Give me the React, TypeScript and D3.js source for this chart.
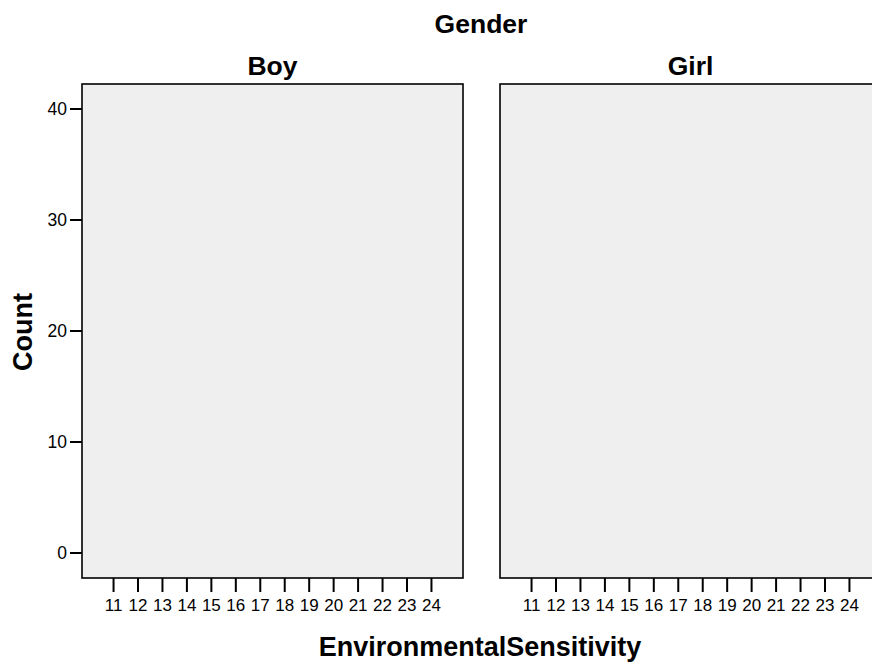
import React, { useEffect, useRef } from "react";
import * as d3 from "d3";

const panels: string[] = ["Boy", "Girl"];
const xCategories: number[] = [11, 12, 13, 14, 15, 16, 17, 18, 19, 20, 21, 22, 23, 24];
const yTicks: number[] = [0, 10, 20, 30, 40];
// No bars are drawn in the reference: every count is empty
const boyCounts: number[] = [];
const girlCounts: number[] = [];

const W = 872;
const H = 663;
const FONT = "Arial, 'Liberation Sans', Helvetica, sans-serif";

export default function App() {
  const ref = useRef<SVGSVGElement | null>(null);

  useEffect(() => {
    const svg = d3.select(ref.current);
    svg.selectAll("*").remove();

    const top = 84;
    const bottom = 578;
    const panelW = 381;
    const panelX = [82, 500];

    const y = d3.scaleLinear().domain([0, 40]).range([553, 109]);

    svg
      .append("text")
      .attr("x", 481)
      .attr("y", 33)
      .attr("text-anchor", "middle")
      .attr("font-family", FONT)
      .attr("font-weight", "bold")
      .attr("font-size", 26.5)
      .text("Gender");

    const data = [boyCounts, girlCounts];

    panels.forEach((name, i) => {
      const x0 = panelX[i];
      const x = d3
        .scalePoint<number>()
        .domain(xCategories)
        .range([x0, x0 + panelW])
        .padding(1.29);

      const g = svg.append("g");
      g.append("rect")
        .attr("x", x0)
        .attr("y", top)
        .attr("width", panelW)
        .attr("height", bottom - top)
        .attr("fill", "#efefef")
        .attr("stroke", "#000")
        .attr("stroke-width", 1.6);

      // bars (none in reference)
      g.selectAll("rect.bar")
        .data(data[i])
        .enter()
        .append("rect")
        .attr("class", "bar")
        .attr("x", (_d, j) => (x(xCategories[j]) ?? 0) - 8)
        .attr("width", 16)
        .attr("y", (d) => y(d))
        .attr("height", (d) => y(0) - y(d))
        .attr("fill", "#3e58ac");

      g.append("text")
        .attr("x", x0 + panelW / 2)
        .attr("y", 75)
        .attr("text-anchor", "middle")
        .attr("font-family", FONT)
        .attr("font-weight", "bold")
        .attr("font-size", 26.5)
        .text(name);

      // x ticks
      xCategories.forEach((c) => {
        const px = x(c) ?? 0;
        g.append("line")
          .attr("x1", px)
          .attr("x2", px)
          .attr("y1", bottom)
          .attr("y2", bottom + 14)
          .attr("stroke", "#000")
          .attr("stroke-width", 2);
        g.append("text")
          .attr("x", px)
          .attr("y", 611)
          .attr("text-anchor", "middle")
          .attr("font-family", FONT)
          .attr("font-size", 17)
          .text(String(c));
      });

      if (i === 0) {
        yTicks.forEach((t) => {
          const py = y(t);
          g.append("line")
            .attr("x1", x0 - 12)
            .attr("x2", x0)
            .attr("y1", py)
            .attr("y2", py)
            .attr("stroke", "#000")
            .attr("stroke-width", 2);
          g.append("text")
            .attr("x", x0 - 15)
            .attr("y", py)
            .attr("dy", "0.35em")
            .attr("text-anchor", "end")
            .attr("font-family", FONT)
            .attr("font-size", 17.5)
            .text(String(t));
        });
      }
    });

    svg
      .append("text")
      .attr("transform", "translate(32,332) rotate(-90)")
      .attr("text-anchor", "middle")
      .attr("font-family", FONT)
      .attr("font-weight", "bold")
      .attr("font-size", 27)
      .text("Count");

    svg
      .append("text")
      .attr("x", 480)
      .attr("y", 656)
      .attr("text-anchor", "middle")
      .attr("font-family", FONT)
      .attr("font-weight", "bold")
      .attr("font-size", 27)
      .text("EnvironmentalSensitivity");
  }, []);

  return (
    <div style={{ position: "absolute", left: 0, top: 0, width: W, height: H, overflow: "hidden", background: "#fff" }}>
      <svg ref={ref} width={W} height={H} style={{ display: "block" }} />
    </div>
  );
}
